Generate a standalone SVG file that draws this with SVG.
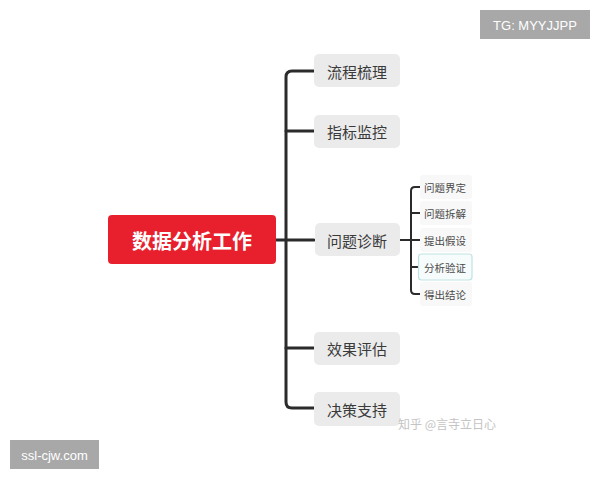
<svg xmlns="http://www.w3.org/2000/svg" width="600" height="480" viewBox="0 0 600 480">
<style>
.bg{fill:#ffffff}
.conn{fill:none;stroke:#2b2b2b;stroke-width:3;stroke-linecap:round;stroke-linejoin:round}
.sub{fill:none;stroke:#2b2b2b;stroke-width:2;stroke-linecap:round;stroke-linejoin:round}
.box{fill:#ebebeb}
.sbox{fill:#f8f8f8}
.t{font-family:"Noto Sans CJK SC","Noto Sans",sans-serif;fill:#3a3a3a;text-anchor:middle;dominant-baseline:central}
.main{font-size:15px}
.small{font-size:10.5px;fill:#4a4a4a}
.wm{font-family:"Liberation Sans","Noto Sans",sans-serif;fill:#ffffff;text-anchor:middle;dominant-baseline:central;font-size:13px}
</style>
<rect class="bg" width="600" height="480"/>
<g id="connectors">
<path class="conn" d="M276,240 H314"/>
<path class="conn" d="M314,71 H292 Q286,71 286,77 V402 Q286,408 292,408 H314"/>
<path class="conn" d="M286,131 H314"/>
<path class="conn" d="M286,348 H314"/>
<path class="sub" d="M400,240 H420"/>
<path class="sub" d="M420,187 H415 Q411,187 411,191 V290 Q411,294 415,294 H420"/>
<path class="sub" d="M411,213 H420"/>
<path class="sub" d="M411,267 H420"/>
</g>
<g id="root">
<rect x="108" y="215" width="168" height="49" rx="4" fill="#e8202e"/>
<text x="192" y="240" class="t" style="font-size:20px;font-weight:bold;fill:#ffffff">数据分析工作</text>
</g>
<g id="n1"><rect class="box" x="314" y="54" width="86" height="33" rx="5"/><text class="t main" x="357" y="71">流程梳理</text></g>
<g id="n2"><rect class="box" x="314" y="115" width="86" height="33" rx="5"/><text class="t main" x="357" y="131">指标监控</text></g>
<g id="n3"><rect class="box" x="315" y="223" width="85" height="33" rx="5"/><text class="t main" x="357" y="240">问题诊断</text></g>
<g id="n4"><rect class="box" x="314" y="332" width="86" height="33" rx="5"/><text class="t main" x="357" y="348">效果评估</text></g>
<g id="n5"><rect class="box" x="314" y="392" width="86" height="34" rx="5"/><text class="t main" x="357" y="409">决策支持</text></g>
<g id="s1"><rect class="sbox" x="420" y="175" width="52" height="24" rx="3"/><text class="t small" x="445" y="187">问题界定</text></g>
<g id="s2"><rect class="sbox" x="420" y="201" width="52" height="24" rx="3"/><text class="t small" x="445" y="213">问题拆解</text></g>
<g id="s3"><rect class="sbox" x="420" y="228" width="52" height="24" rx="3"/><text class="t small" x="445" y="240">提出假设</text></g>
<g id="s4"><rect x="418.5" y="254" width="53.5" height="26" rx="3" fill="#f6fbfb" stroke="#bfe3e3" stroke-width="1.2"/><text class="t small" x="445" y="267">分析验证</text></g>
<g id="s5"><rect class="sbox" x="420" y="282" width="52" height="24" rx="3"/><text class="t small" x="445" y="294">得出结论</text></g>
<text x="398" y="423" style="font-family:'Noto Sans CJK SC',sans-serif;font-size:12px;fill:#c4c4c4" dominant-baseline="central">知乎 @言寺立日心</text>
<g id="tg"><rect x="480" y="10" width="110" height="29" fill="#a8a8a8"/><text class="wm" x="535" y="25">TG: MYYJJPP</text></g>
<g id="site"><rect x="10" y="440" width="89" height="29" fill="#a8a8a8"/><text class="wm" x="54.5" y="455">ssl-cjw.com</text></g>
</svg>
